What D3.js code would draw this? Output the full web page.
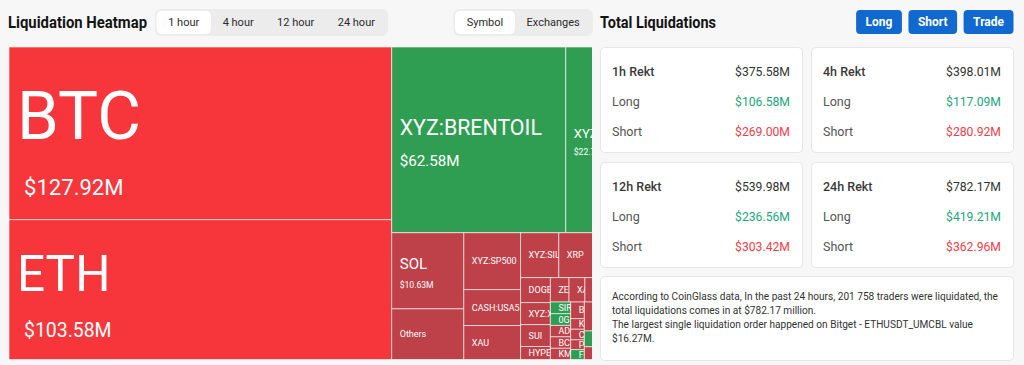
<!DOCTYPE html>
<html><head><meta charset="utf-8">
<script src="https://cdn.jsdelivr.net/npm/d3@7"></script>
<style>
html,body{margin:0;padding:0;background:#f7f7f8;}
svg{display:block;font-family:Roboto,"Noto Sans",sans-serif;}
</style></head><body>
<svg id="c" width="1024" height="365"></svg>
<script>
// ---------- data ----------
const symbols = ["BTC","ETH","XYZ:BRENTOIL","XYZ:CL","SOL","Others","XYZ:SP500","CASH:USA500","XAU","XYZ:SILVER","XRP","ENA",
  "DOGE","XYZ:XYZ100","SUI","HYPE","ZEC","XAG","LINK","AVAX","LTC","SIREN","0G","ADA","BCH","KMNO",
  "BNB","KITE","COMP","PENGU","FLOKI","TRX","ASTER","PUMP","WLD","AAVE"];
const valuesM = [127.92,103.58,62.58,22.74,10.63,7.07,6.25,3.95,3.73,3.32,3.18,2.92,
  1.44,1.27,1.26,0.75,0.88,0.75,0.72,0.70,0.66,0.46,0.46,0.45,0.45,0.44,
  0.44,0.28,0.28,0.26,0.26,1.30,1.20,1.00,0.80,0.67];
// 2 = heavy short-side red, 1 = red, 0 = green
const trend = [2,2,0,0,1,1,1,1,1,1,1,1,
  1,1,1,1,1,1,1,1,1,0,0,1,1,1,
  1,1,1,1,0,1,1,0,1,1];
const timeTabs = ["1 hour","4 hour","12 hour","24 hour"];
const viewTabs = ["Symbol","Exchanges"];
const actions = ["Long","Short","Trade"];
const rektPeriods = ["1h Rekt","4h Rekt","12h Rekt","24h Rekt"];
const rektTotal = [375.58,398.01,539.98,782.17];
const rektLong  = [106.58,117.09,236.56,419.21];
const rektShort = [269.00,280.92,303.42,362.96];
const infoLines = [
  "According to CoinGlass data, In the past 24 hours, 201 758 traders were liquidated, the",
  "total liquidations comes in at $782.17 million.",
  "The largest single liquidation order happened on Bitget - ETHUSDT_UMCBL value",
  "$16.27M."
];

// ---------- page ----------
const svg = d3.select("#c");
svg.append("rect").attr("width",1024).attr("height",365).attr("fill","#f7f7f8");
const fmt = v => "$" + d3.format(".2f")(v) + "M";
const colors = {2:"#f7363c",1:"#be4048",0:"#2f9e52"};

function measure(txt, size, weight){
  const t = svg.append("text").attr("font-size",size).attr("font-weight",weight||400).text(txt);
  const w = t.node().getComputedTextLength(); t.remove(); return w;
}

// titles
svg.append("text").attr("x",8).attr("y",28).attr("font-size",16.5).attr("font-weight",700)
  .attr("textLength",139).attr("lengthAdjust","spacingAndGlyphs").attr("fill","#141414").text("Liquidation Heatmap");
svg.append("text").attr("x",600).attr("y",28).attr("font-size",16.5).attr("font-weight",700)
  .attr("textLength",116).attr("lengthAdjust","spacingAndGlyphs").attr("fill","#141414").text("Total Liquidations");

// tab groups
function tabGroup(labels, x0, active){
  const pad = 11.7, g = svg.append("g");
  const widths = labels.map(l => measure(l, 11) + 2*pad);
  const total = d3.sum(widths);
  g.append("rect").attr("x",x0-1.5).attr("y",9).attr("width",total+3).attr("height",27)
    .attr("rx",6).attr("fill","#ececed");
  let x = x0;
  labels.forEach((l,i)=>{
    if(i===active) g.append("rect").attr("x",x).attr("y",11).attr("width",widths[i]).attr("height",23)
      .attr("rx",5).attr("fill","#fff");
    g.append("text").attr("x",x+widths[i]/2).attr("y",26).attr("text-anchor","middle")
      .attr("font-size",11).attr("fill","#2b2b2b").text(l);
    x += widths[i];
  });
}
tabGroup(timeTabs,156.5,0);
tabGroup(viewTabs,455,0);

// action buttons (right aligned)
{
  let xr = 1013.5;
  const ws = actions.map(a => measure(a,12,700) + 19);
  for(let i=actions.length-1;i>=0;i--){
    const x = xr - ws[i];
    svg.append("rect").attr("x",x).attr("y",10).attr("width",ws[i]).attr("height",24).attr("rx",4).attr("fill","#1169cf");
    svg.append("text").attr("x",x+ws[i]/2).attr("y",26).attr("text-anchor","middle").attr("font-size",12)
      .attr("font-weight",700).attr("fill","#fff").text(actions[i]);
    xr = x - 6.5;
  }
}

// ---------- treemap ----------
const TM = {x:9, y:47, w:620, h:312.5, clipW:583};
const root = d3.hierarchy({children: symbols.map((s,i)=>({name:s, value:valuesM[i], trend:trend[i]}))})
  .sum(d => d.value || 0);
d3.treemap().tile(d3.treemapSquarify).size([TM.w, TM.h]).round(false)(root);

const defs = svg.append("defs");
defs.append("clipPath").attr("id","tmclip").append("rect").attr("width",TM.clipW).attr("height",TM.h+1).attr("y",-0.5);
const tm = svg.append("g").attr("transform",`translate(${TM.x},${TM.y})`).attr("clip-path","url(#tmclip)");
const leaves = root.leaves();

tm.selectAll("rect.cell").data(leaves).join("rect").attr("class","cell")
  .attr("x",d=>d.x0).attr("y",d=>d.y0).attr("width",d=>d.x1-d.x0).attr("height",d=>d.y1-d.y0)
  .attr("fill",d=>colors[d.data.trend]).attr("stroke","rgba(255,255,255,0.6)").attr("stroke-width",1);

// place a label and cut it to the characters that are (at least partly) visible in its cell
function fitLabel(g, x, y, size, txt, d){
  const limit = Math.min(d.x1, TM.clipW) - x;
  if(limit < 3) return;
  const t = g.append("text").attr("x",x).attr("y",y).attr("font-size",size).attr("fill","#fff").text(txt);
  const node = t.node();
  let n = txt.length;
  while(n > 0 && node.getStartPositionOfChar(n-1).x - x >= limit - 1) n--;
  if(n === 0){ t.remove(); return; }
  if(n < txt.length) t.text(txt.slice(0,n));
}

leaves.forEach((d,i)=>{
  const w = d.x1-d.x0, h = d.y1-d.y0;
  if(d.x0 >= TM.clipW - 2 || h < 6) return;
  defs.append("clipPath").attr("id","cc"+i).append("rect").attr("x",d.x0).attr("y",d.y0)
    .attr("width",Math.min(w, TM.clipW-d.x0)).attr("height",h);
  const em = measure(d.data.name, 100)/100;
  let ns = Math.max(9, Math.min(0.54*h - 26, (w-16)*0.9/em));
  const g = tm.append("g").attr("clip-path",`url(#cc${i})`);
  const cy = (d.y0+d.y1)/2;
  const showVal = h >= 70 && ns >= 12;
  if(showVal){
    const vs = Math.max(8.6, ns >= 20 ? 12 + 0.15*ns : 0.57*ns);
    const gap = 0.3*ns + 1.6*vs;
    const nb = cy - gap/2 + 0.5*ns;
    fitLabel(g, d.x0+8, nb, ns, d.data.name, d);
    fitLabel(g, d.x0 + (w>300?15:8), nb+gap, vs, fmt(d.data.value), d);
  } else {
    fitLabel(g, d.x0+8, Math.min(cy+0.35*ns, d.y1 - 1), ns, d.data.name, d);
  }
});

// ---------- rekt cards ----------
rektPeriods.forEach((p,i)=>{
  const x = 600 + (i%2)*211, y = 47 + Math.floor(i/2)*115;
  const g = svg.append("g").attr("transform",`translate(${x},${y})`);
  g.append("rect").attr("x",0.5).attr("y",0.5).attr("width",202).attr("height",105).attr("rx",4)
    .attr("fill","#fff").attr("stroke","#e6e6e8");
  const rows = [[p,rektTotal[i],"#3a3a3a","#333",500],["Long",rektLong[i],"#555","#22a67e",400],["Short",rektShort[i],"#555","#f1404a",400]];
  rows.forEach((r,j)=>{
    const by = 28.5 + j*30;
    g.append("text").attr("x",12).attr("y",by).attr("font-size",12.5).attr("font-weight",r[4]).attr("fill",r[2]).text(r[0]);
    g.append("text").attr("x",190).attr("y",by).attr("text-anchor","end").attr("font-size",12.2)
      .attr("font-weight",400).attr("fill",r[3]).text(fmt(r[1]));
  });
});

// ---------- info card ----------
{
  const g = svg.append("g").attr("transform","translate(600,276)");
  g.append("rect").attr("x",0.5).attr("y",0.5).attr("width",413).attr("height",84).attr("rx",4)
    .attr("fill","#fff").attr("stroke","#e6e6e8");
  infoLines.forEach((l,j)=>{
    g.append("text").attr("x",12).attr("y",23.5+j*14).attr("font-size",10.1).attr("fill","#333").text(l);
  });
}
</script>
</body></html>
